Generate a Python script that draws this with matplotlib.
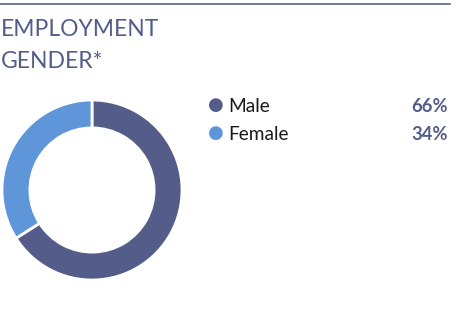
import matplotlib
matplotlib.use("Agg")
import matplotlib.pyplot as plt

categories = ["Male", "Female"]
values = [66, 34]
labels = ["66%", "34%"]
colors = ["#545d8a", "#5e96d9"]

W, H = 457, 315
fig = plt.figure(figsize=(W/100, H/100), dpi=100)
fig.patch.set_facecolor("white")

# top rule
fig.add_artist(plt.Line2D([0, 450/W], [1-4/H, 1-4/H], color="#5a6088", lw=1.2))

fig.text(1/W, 1-29/H, "EMPLOYMENT", fontsize=16.5, color="#545d8a",
         family="Lato", va="center", ha="left")
fig.text(1/W, 1-61/H, "GENDER*", fontsize=16.5, color="#545d8a",
         family="Lato", va="center", ha="left")

ax = fig.add_axes([2/W, 1-280/H, 180/W, 180/H])
ax.pie(values, colors=colors, startangle=90, counterclock=False, radius=1,
       wedgeprops=dict(width=0.31, edgecolor="white", linewidth=2))
ax.set_xlim(-1, 1); ax.set_ylim(-1, 1)
ax.set_aspect("equal")
ax.axis("off")

ys = [106, 134]
for cat, lab, col, y in zip(categories, labels, colors, ys):
    fig.text(216/W, 1-(y-1)/H, "\u25CF", fontsize=13, color=col, va="center", ha="center",
             family="DejaVu Sans")
    fig.text(228/W, 1-y/H, cat, fontsize=13.8, color="#1a1a1a", va="center", ha="left",
             family="Lato")
    fig.text(448/W, 1-y/H, lab, fontsize=13.2, color="#545d8a", va="center", ha="right",
             family="Lato", fontweight="bold")

fig.savefig("out.png", dpi=100, facecolor="white")
